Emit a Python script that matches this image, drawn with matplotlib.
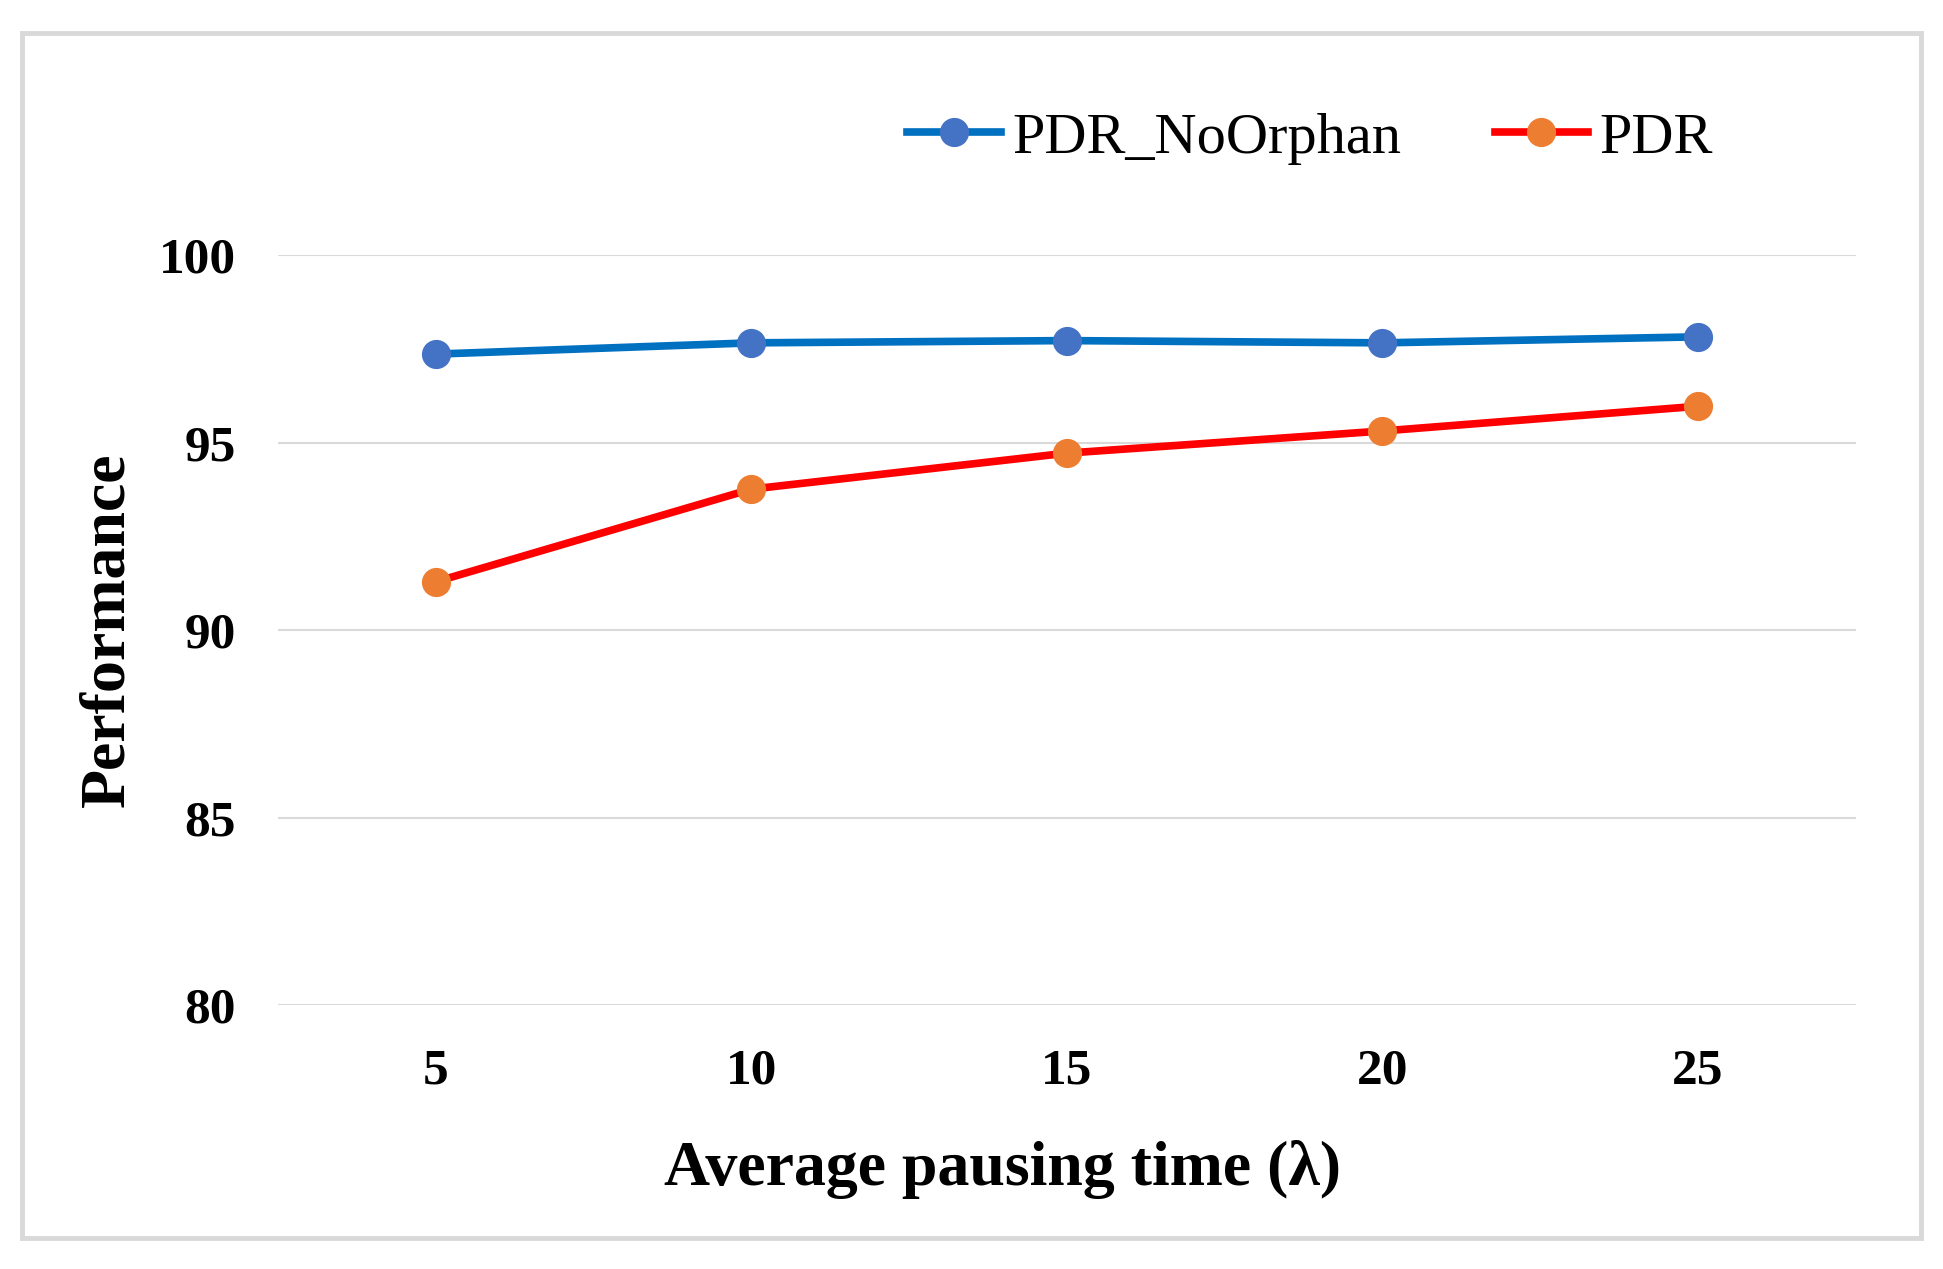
import matplotlib.pyplot as plt
from matplotlib.patches import Rectangle

# datos
categorias = ['5', '10', '15', '20', '25']
pdr_no_orphan = [97.36, 97.66, 97.72, 97.66, 97.82]
pdr = [91.29, 93.76, 94.72, 95.31, 95.97]
ticks_y = [80, 85, 90, 95, 100]

plt.rcParams['font.family'] = ['Liberation Serif', 'DejaVu Serif']

fig = plt.figure(figsize=(19.43, 12.69), dpi=100)
ax = fig.add_axes([0.1430, 0.2078, 0.9551 - 0.1430, 0.7990 - 0.2078])

x = list(range(len(categorias)))
ax.plot(x, pdr_no_orphan, color='#0070C0', linewidth=5.5, marker='o',
        markersize=20, markerfacecolor='#4472C4', markeredgecolor='#4472C4',
        label='PDR_NoOrphan')
ax.plot(x, pdr, color='#FF0000', linewidth=5.5, marker='o',
        markersize=20, markerfacecolor='#ED7D31', markeredgecolor='#ED7D31',
        label='PDR')

ax.set_xlim(-0.5, len(categorias) - 0.5)
ax.set_ylim(80, 100)
ax.set_xticks(x)
ax.set_xticklabels(categorias)
ax.set_yticks(ticks_y)
ax.tick_params(axis='both', length=0, labelsize=37)
ax.tick_params(axis='x', pad=31)
ax.tick_params(axis='y', pad=30)
for lbl in ax.get_xticklabels() + ax.get_yticklabels():
    lbl.set_fontweight('bold')

ax.yaxis.grid(True, color='#D9D9D9', linewidth=1.5)
ax.set_axisbelow(True)
for s in ax.spines.values():
    s.set_visible(False)

ax.set_xlabel('Average pausing time (λ)', fontsize=46, fontweight='bold')
ax.xaxis.set_label_coords(0.459, -0.179)
ax.set_ylabel('Performance', fontsize=46, fontweight='bold')
ax.yaxis.set_label_coords(-0.089, 0.5)

fig.legend(loc='center left', bbox_to_anchor=(0.467, 0.891), ncol=2, frameon=False,
           fontsize=42, handlelength=1.6, handletextpad=0.2, columnspacing=1.6,
           borderpad=0, borderaxespad=0)

# marco gris exterior
fig.patches.append(Rectangle((0.0115, 0.0244), 0.977, 0.9493, transform=fig.transFigure,
                             fill=False, edgecolor='#D9D9D9', linewidth=3.5))

fig.savefig('out.png', dpi=100)
